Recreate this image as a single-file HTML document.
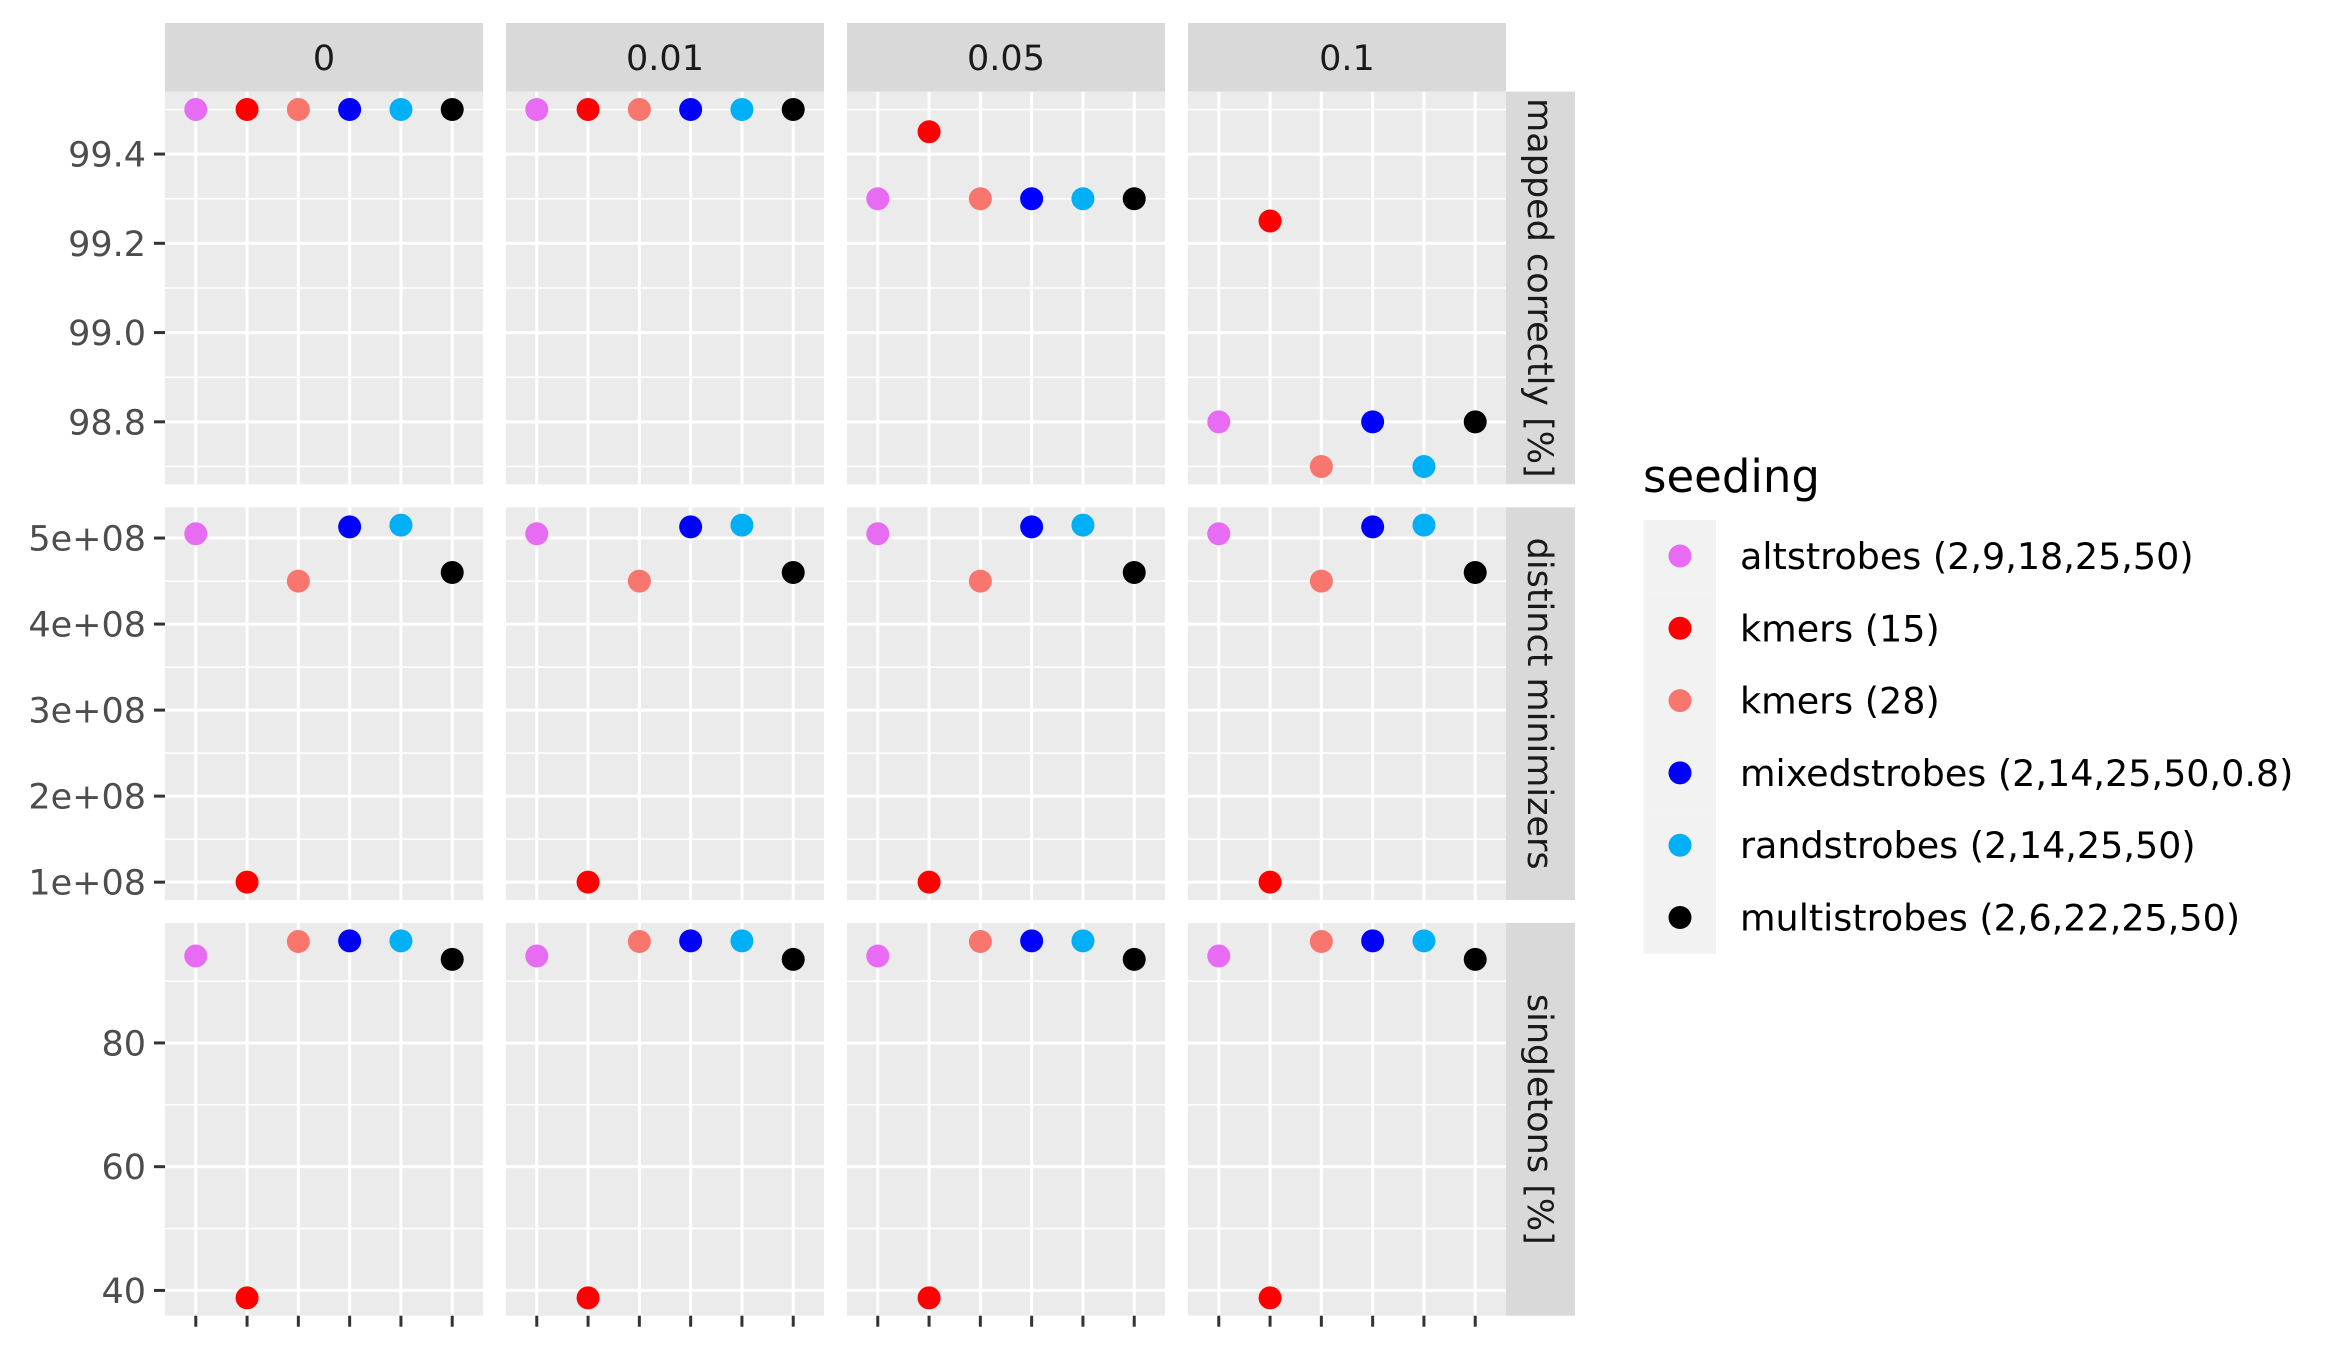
<!DOCTYPE html>
<html><head><meta charset="utf-8"><style>
html,body{margin:0;padding:0;background:#fff;}
svg text{font-family:"DejaVu Sans","Liberation Sans",sans-serif;}
</style></head><body>
<svg id="chart" width="2340" height="1350" viewBox="0 0 2340 1350" xmlns="http://www.w3.org/2000/svg"></svg>
<script>
const seeds = ["altstrobes (2,9,18,25,50)","kmers (15)","kmers (28)","mixedstrobes (2,14,25,50,0.8)","randstrobes (2,14,25,50)","multistrobes (2,6,22,25,50)"];
const colors = ["#E76BF3","#FF0000","#F8766D","#0000FF","#00B0F6","#000000"];
const colFacets = ["0","0.01","0.05","0.1"];
const rowFacets = ["mapped correctly [%]","distinct minimizers","singletons [%]"];
const mappedCorrectly = [
  [99.5,99.5,99.5,99.5,99.5,99.5],
  [99.5,99.5,99.5,99.5,99.5,99.5],
  [99.3,99.45,99.3,99.3,99.3,99.3],
  [98.8,99.25,98.7,98.8,98.7,98.8]
];
const distinctMinimizers = [
  [5.05e8,1.0e8,4.5e8,5.13e8,5.15e8,4.6e8],
  [5.05e8,1.0e8,4.5e8,5.13e8,5.15e8,4.6e8],
  [5.05e8,1.0e8,4.5e8,5.13e8,5.15e8,4.6e8],
  [5.05e8,1.0e8,4.5e8,5.13e8,5.15e8,4.6e8]
];
const singletons = [
  [94.05,38.8,96.4,96.5,96.5,93.5],
  [94.05,38.8,96.4,96.5,96.5,93.5],
  [94.05,38.8,96.4,96.5,96.5,93.5],
  [94.05,38.8,96.4,96.5,96.5,93.5]
];
const row1Ticks = [98.8,99.0,99.2,99.4];
const row1TickLabels = ["98.8","99.0","99.2","99.4"];
const row2Ticks = [1e8,2e8,3e8,4e8,5e8];
const row2TickLabels = ["1e+08","2e+08","3e+08","4e+08","5e+08"];
const row3Ticks = [40,60,80];
const row3TickLabels = ["40","60","80"];

const NS="http://www.w3.org/2000/svg";
const svg=document.getElementById('chart');
function mk(tag,attrs,parent){const e=document.createElementNS(NS,tag);for(const k in attrs)e.setAttribute(k,attrs[k]);(parent||svg).appendChild(e);return e;}

const panelLeft=[165,506,847,1188], panelW=318;
const rowTop=[91.6,507.3,923], panelH=392.7;
const rowData=[mappedCorrectly,distinctMinimizers,singletons];
const rowTicks=[row1Ticks,row2Ticks,row3Ticks];
const rowLabels=[row1TickLabels,row2TickLabels,row3TickLabels];

function yScaleFor(r){
  const all=rowData[r].flat();
  const mn=Math.min(...all), mx=Math.max(...all), pad=(mx-mn)*0.05;
  const lo=mn-pad, hi=mx+pad, top=rowTop[r];
  return v=> top+panelH-(v-lo)/(hi-lo)*panelH;
}
function xScale(c,i){const step=panelW/(seeds.length-1+1.2);return panelLeft[c]+step*(0.6+i);}

colFacets.forEach((f,c)=>{
  const g=mk('g',{});
  
  
  mk('rect',{x:panelLeft[c],y:23,width:panelW,height:68.6,fill:'#d9d9d9'},g);
  const t=mk('text',{x:panelLeft[c]+panelW/2,y:70,'font-size':35,fill:'#1a1a1a','text-anchor':'middle'},g);
  t.textContent=f;
});

rowFacets.forEach((rf,r)=>{
  const ys=yScaleFor(r);
  const top=rowTop[r], bot=top+panelH;
  const sg=mk('g',{});
  
  
  mk('rect',{x:1505.7,y:top,width:69.3,height:panelH,fill:'#d9d9d9'},sg);
  const cx=1540, cy=top+panelH/2;
  const st=mk('text',{x:cx,y:cy+12,'font-size':35,fill:'#1a1a1a','text-anchor':'middle',transform:`rotate(90 ${cx} ${cy})`},sg);
  st.textContent=rf;
  const tk=rowTicks[r]; const d=tk[1]-tk[0];
  const minors=[];
  for(let v=tk[0]-d/2; v<=tk[tk.length-1]+d/2+1e-9; v+=d) minors.push(v);
  colFacets.forEach((f,c)=>{
    const pg=mk('g',{});
    
    
    mk('rect',{x:panelLeft[c],y:top,width:panelW,height:panelH,fill:'#ebebeb'},pg);
    minors.forEach(v=>{const y=ys(v); if(y>top&&y<bot) mk('line',{x1:panelLeft[c],x2:panelLeft[c]+panelW,y1:y,y2:y,stroke:'#fff','stroke-width':1.5},pg);});
    tk.forEach(v=>{const y=ys(v); mk('line',{x1:panelLeft[c],x2:panelLeft[c]+panelW,y1:y,y2:y,stroke:'#fff','stroke-width':3},pg);});
    seeds.forEach((s,i)=>{const x=xScale(c,i); mk('line',{x1:x,x2:x,y1:top,y2:bot,stroke:'#fff','stroke-width':3},pg);});
    seeds.forEach((s,i)=>{
      const p=mk('circle',{cx:xScale(c,i),cy:ys(rowData[r][c][i]),r:11.5,fill:colors[i]},pg);
      
      
    });
    if(r===2){
      seeds.forEach((s,i)=>{const x=xScale(c,i); mk('line',{x1:x,x2:x,y1:bot,y2:bot+11,stroke:'#333','stroke-width':3},pg);});
    }
  });
  const ag=mk('g',{});
  
  
  tk.forEach((v,k)=>{
    const y=ys(v);
    mk('line',{x1:154,x2:165,y1:y,y2:y,stroke:'#333','stroke-width':3},ag);
    const t=mk('text',{x:146,y:y+12.5,'font-size':35,fill:'#4d4d4d','text-anchor':'end'},ag);
    t.textContent=rowLabels[r][k];
  });
});

const lg=mk('g',{});


const lt=mk('text',{x:1643,y:492,'font-size':45,fill:'#000'},lg);
lt.textContent='seeding';
seeds.forEach((s,i)=>{
  const eg=mk('g',{},lg);
  
  
  const y=520+i*72.3;
  mk('rect',{x:1643.5,y:y,width:72.5,height:72.3,fill:'#f2f2f2'},eg);
  mk('circle',{cx:1680,cy:y+36,r:11.5,fill:colors[i]},eg);
  const t=mk('text',{x:1740,y:y+49,'font-size':36.5,fill:'#000'},eg);
  t.textContent=s;
});
</script>
</body></html>
